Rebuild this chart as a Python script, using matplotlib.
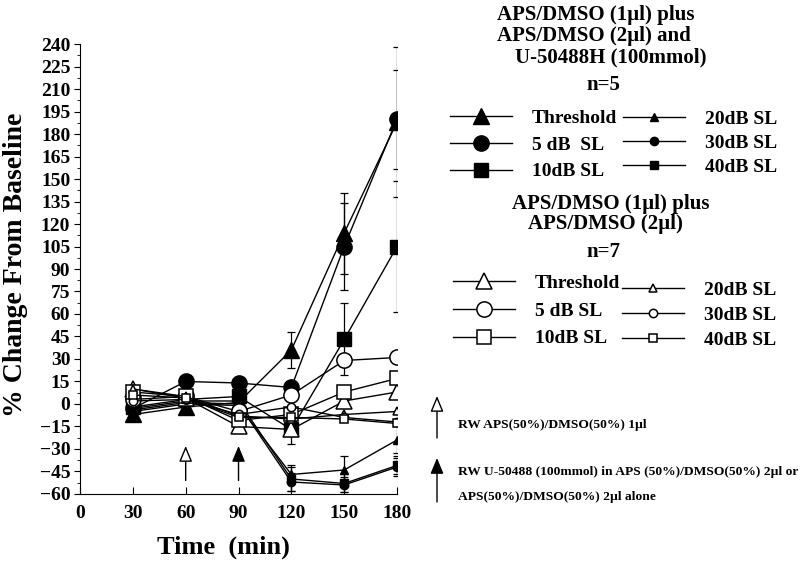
import numpy as np
import matplotlib
matplotlib.use('Agg')
import matplotlib.pyplot as plt
from matplotlib.ticker import MultipleLocator, AutoMinorLocator

plt.rcParams['font.family'] = ['Liberation Serif', 'DejaVu Serif']
plt.rcParams['font.weight'] = 'bold'

# 시간 (min)
time = [30, 60, 90, 120, 150, 180]

# APS/DMSO (1ul) + APS/DMSO (2ul) + U-50488H, n=5  (filled)
u_thr = [-7, -2, 1, 36, 114, 188]
u_5db = [-3, 15, 14, 11, 105, 190]
u_10db = [-2, 3, 5, -17, 43, 105]
u_20db = [-5, 0, -1, -47, -44, -24]
u_30db = [-4, 1, 0, -52, -54, -42]
u_40db = [-3, 2, 2, -50, -53, -41]

u_thr_err = [np.nan, np.nan, np.nan, 12, 27, 50]
u_5db_err = [np.nan, np.nan, np.nan, np.nan, 29, 33]
u_10db_err = [np.nan, np.nan, np.nan, 10, 24, 44]
u_20db_err = [np.nan, np.nan, np.nan, 6, 9, 9]
u_30db_err = [np.nan, np.nan, np.nan, 6, 5, 6]
u_40db_err = [np.nan, np.nan, np.nan, 8, 6, 6]

# APS/DMSO (1ul) + APS/DMSO (2ul), n=7  (open)
a_thr = [10, 4, -15, -17, 2, 8]
a_5db = [3, 5, -5, 6, 29, 31]
a_10db = [8, 5, -11, -7, 8, 17]
a_20db = [10, 5, -8, -10, -7, -5]
a_30db = [2, 3, -7, -2, -9, -12]
a_40db = [6, 4, -9, -9, -10, -13]

labels = ['Threshold', '5 dB  SL', '10dB SL', '20dB SL', '30dB SL', '40dB SL']
labels_open = ['Threshold', '5 dB SL', '10dB SL', '20dB SL', '30dB SL', '40dB SL']

fig = plt.figure(figsize=(8, 5.63), dpi=100)
ax = fig.add_axes([0.1, 0.1226, 0.3963, 0.7992])

filled = [(u_thr, u_thr_err, '^', 11), (u_5db, u_5db_err, 'o', 11), (u_10db, u_10db_err, 's', 10),
          (u_20db, u_20db_err, '^', 6), (u_30db, u_30db_err, 'o', 6), (u_40db, u_40db_err, 's', 6)]
opened = [(a_thr, '^', 11), (a_5db, 'o', 11), (a_10db, 's', 10),
          (a_20db, '^', 6), (a_30db, 'o', 6), (a_40db, 's', 6)]

h_filled = []
for y, e, m, ms in filled:
    ax.errorbar(time, y, yerr=e, fmt='none', ecolor='black', elinewidth=0.9, capsize=3, capthick=0.9)
    l, = ax.plot(time, y, color='black', lw=1, marker=m, ms=ms, mfc='black', mec='black')
    h_filled.append(l)

h_open = []
for y, m, ms in opened:
    l, = ax.plot(time, y, color='black', lw=1, marker=m, ms=ms, mfc='white', mec='black', mew=1.1)
    h_open.append(l)

# 화살표 (주입 시점)
arrow_open = dict(arrowstyle='-|>,head_length=0.6,head_width=0.25', color='black', fc='white',
                  lw=1, mutation_scale=16, shrinkA=0, shrinkB=0)
arrow_fill = dict(arrow_open, fc='black')
ax.annotate('', xy=(60, -28), xytext=(60, -51), arrowprops=arrow_open)
ax.annotate('', xy=(90, -28), xytext=(90, -51), arrowprops=arrow_fill)

ax.set_xlim(0, 180)
ax.set_ylim(-60, 240)
ax.xaxis.set_major_locator(MultipleLocator(30))
ax.yaxis.set_major_locator(MultipleLocator(15))
ax.yaxis.set_minor_locator(AutoMinorLocator(2))
ax.spines['top'].set_visible(False)
ax.spines['right'].set_visible(False)
ax.tick_params(axis='x', direction='in', length=5, labelsize=14, pad=8)
ax.tick_params(axis='y', which='major', direction='out', length=4, labelsize=14, pad=3)
ax.tick_params(axis='y', which='minor', direction='out', length=2)
for t in ax.get_xticklabels() + ax.get_yticklabels():
    t.set_fontweight('bold')
ax.set_xlabel('Time  (min)', fontsize=19, fontweight='bold')
ax.set_ylabel('% Change From Baseline', fontsize=20, fontweight='bold')
ax.xaxis.set_label_coords(0.451, -0.093)
ax.yaxis.set_label_coords(-0.163, 0.51)

# 범례 제목
fig.text(497 / 800, 1 - 15 / 563, 'APS/DMSO (1\u00b5l) plus', ha='left', va='center', fontsize=15)
fig.text(497 / 800, 1 - 36 / 563, 'APS/DMSO (2\u00b5l) and', ha='left', va='center', fontsize=15)
fig.text(515 / 800, 1 - 57 / 563, 'U-50488H (100mmol)', ha='left', va='center', fontsize=15)
fig.text(603 / 800, 1 - 85 / 563, 'n=5', ha='center', va='center', fontsize=15)

fig.text(512 / 800, 1 - 204 / 563, 'APS/DMSO (1\u00b5l) plus', ha='left', va='center', fontsize=15)
fig.text(528 / 800, 1 - 224 / 563, 'APS/DMSO (2\u00b5l)', ha='left', va='center', fontsize=15)
fig.text(603 / 800, 1 - 252 / 563, 'n=7', ha='center', va='center', fontsize=15)

legkw = dict(frameon=False, fontsize=14, handlelength=3.2, handletextpad=1.0,
             borderpad=0, borderaxespad=0, loc='upper left')
fig.legend(h_filled[:3], labels[:3], bbox_to_anchor=(450 / 800, 1 - 109 / 563),
           labelspacing=0.48, **legkw)
fig.legend(h_filled[3:], labels[3:], bbox_to_anchor=(623 / 800, 1 - 110 / 563),
           labelspacing=0.33, **legkw)
fig.legend(h_open[:3], labels_open[:3], bbox_to_anchor=(453 / 800, 1 - 274 / 563),
           labelspacing=0.53, **legkw)
fig.legend(h_open[3:], labels_open[3:], bbox_to_anchor=(622 / 800, 1 - 281 / 563),
           labelspacing=0.38, **legkw)

# 오른쪽 주석
ax.annotate('', xy=(437, 563 - 396), xytext=(437, 563 - 438), xycoords='figure pixels',
            arrowprops=arrow_open, annotation_clip=False)
ax.annotate('', xy=(437, 563 - 458), xytext=(437, 563 - 502), xycoords='figure pixels',
            arrowprops=arrow_fill, annotation_clip=False)
fig.text(458 / 800, 1 - 425 / 563, 'RW APS(50%)/DMSO(50%) 1\u00b5l', ha='left', va='center', fontsize=9.7)
fig.text(458 / 800, 1 - 472 / 563, 'RW U-50488 (100mmol) in APS (50%)/DMSO(50%) 2\u00b5l or',
         ha='left', va='center', fontsize=9.7)
fig.text(458 / 800, 1 - 497 / 563, 'APS(50%)/DMSO(50%) 2\u00b5l alone', ha='left', va='center', fontsize=9.7)

fig.savefig('out.png', dpi=100)
